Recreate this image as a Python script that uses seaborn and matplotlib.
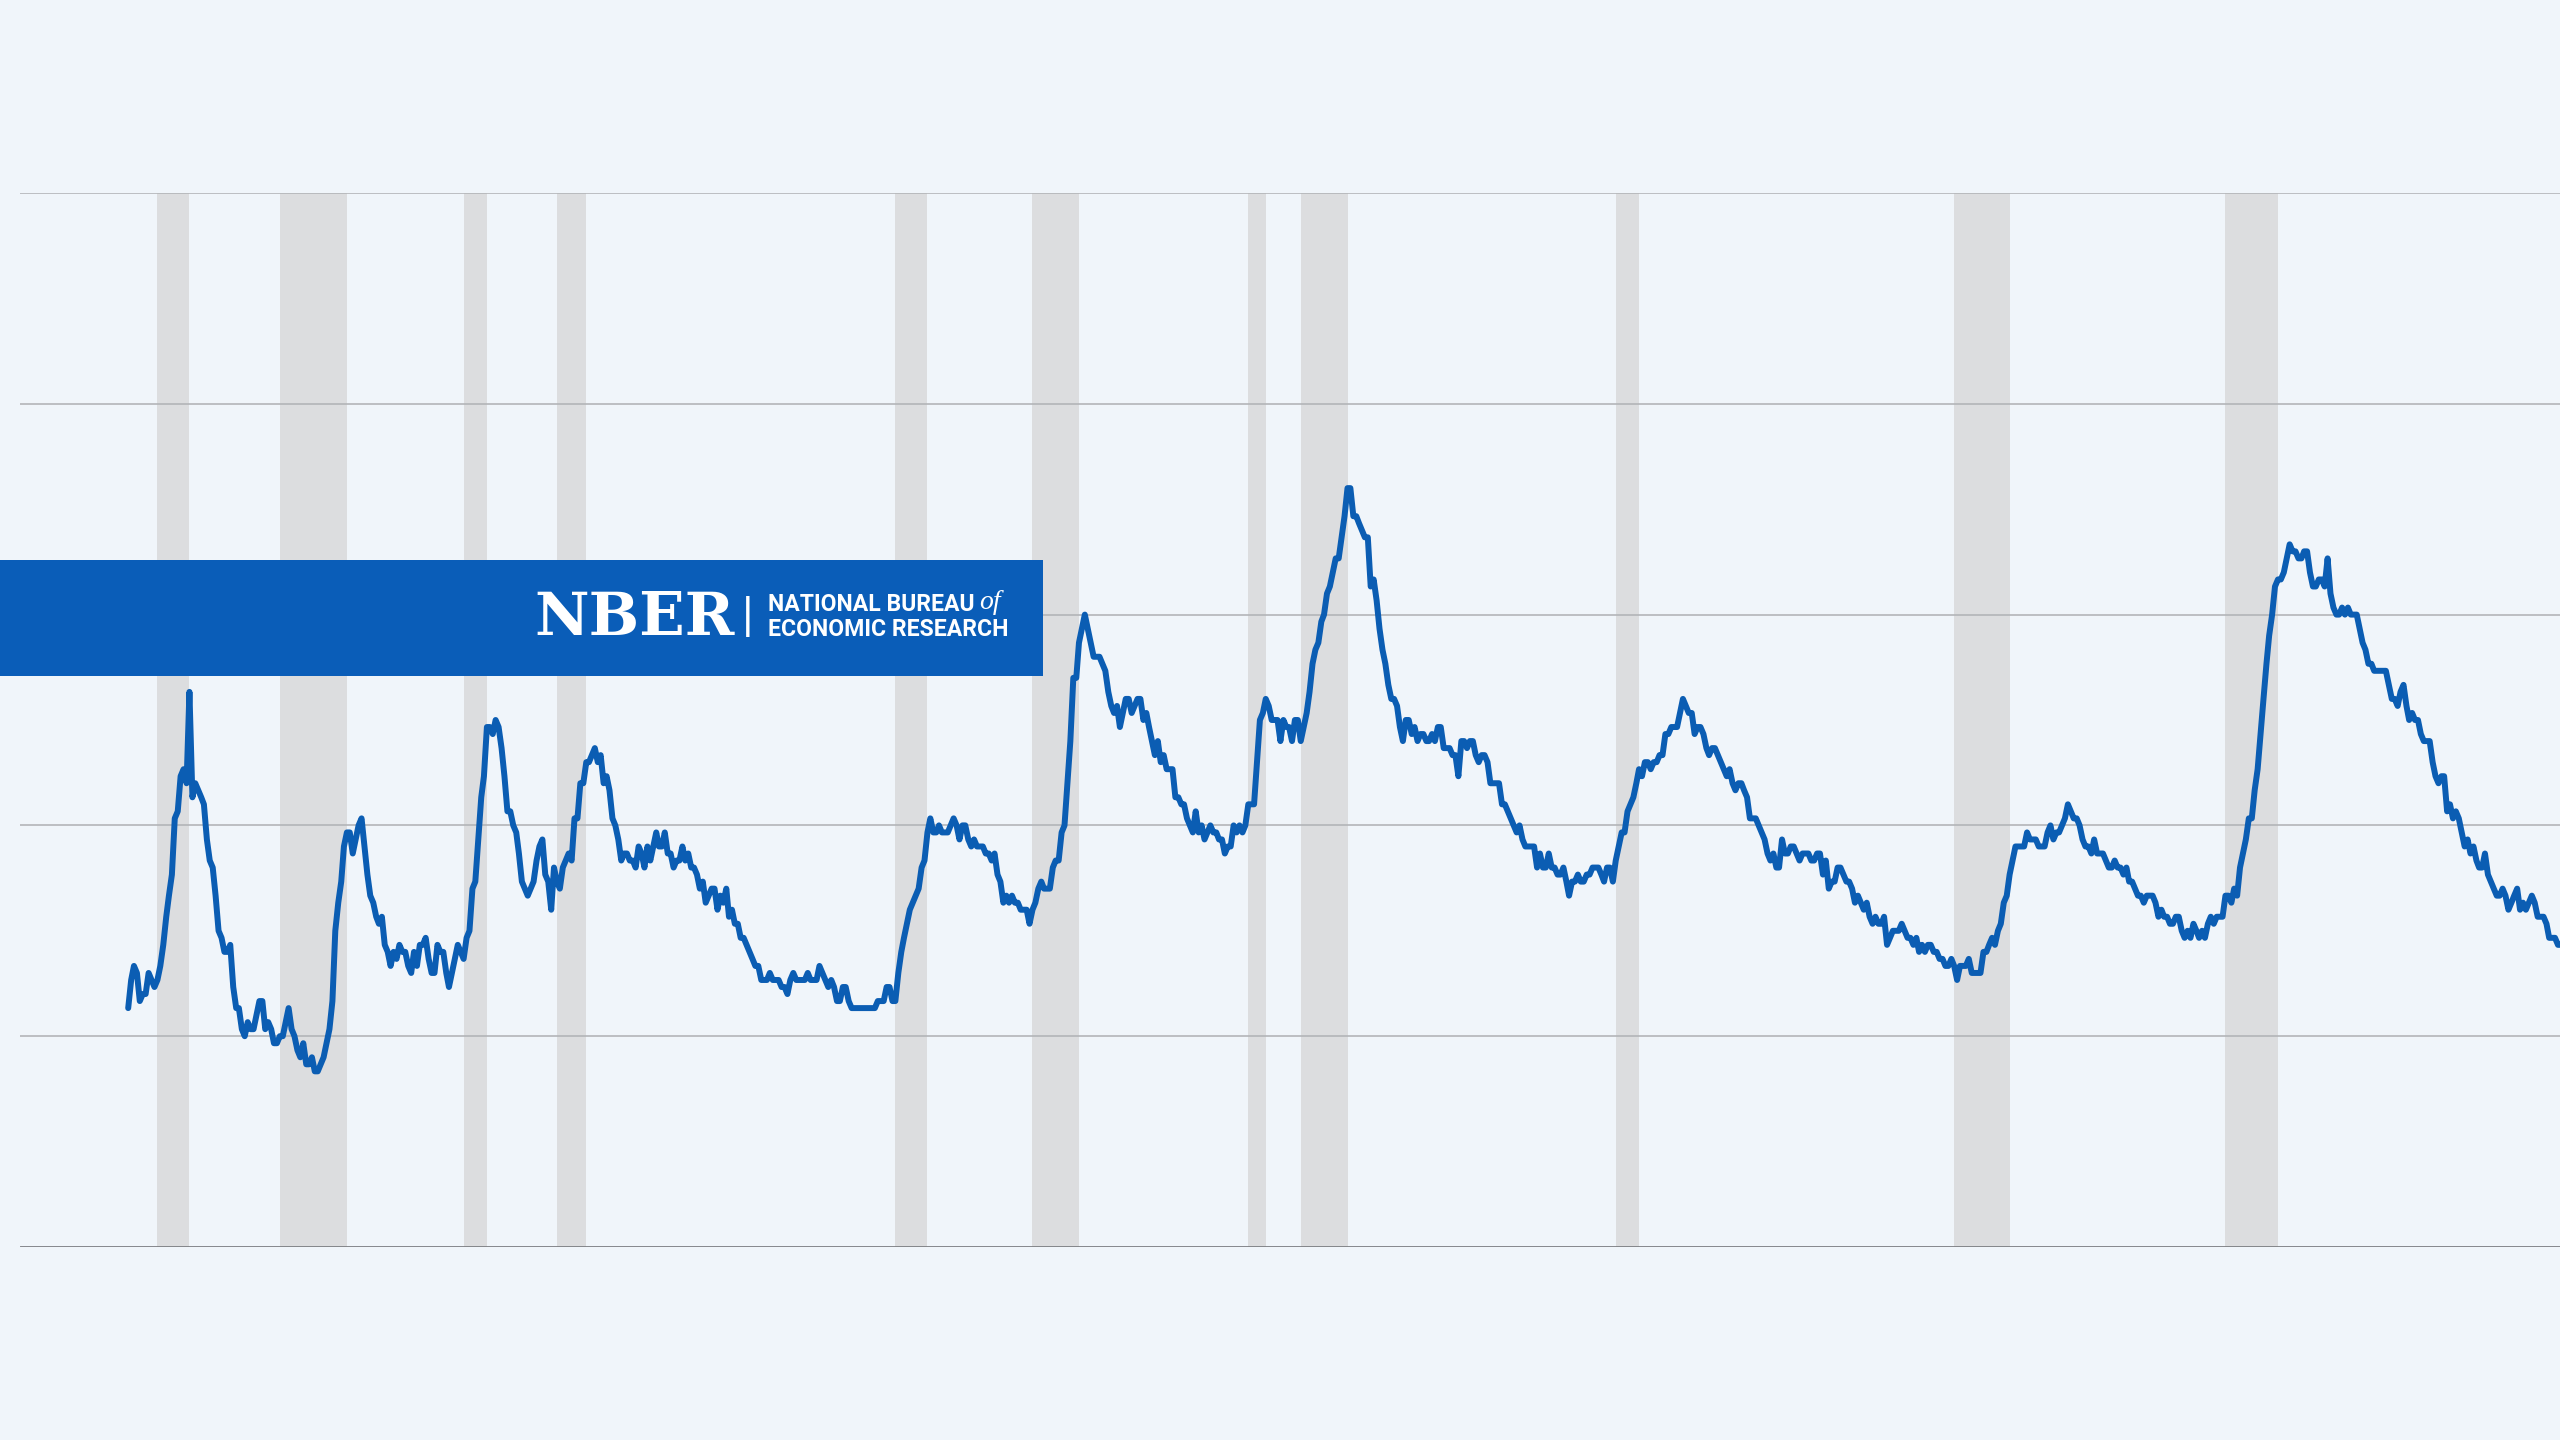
import pandas as pd
import numpy as np
import matplotlib.pyplot as plt
import seaborn as sns
from matplotlib.patches import Rectangle

# monthly US unemployment rate (%), Jan 1948 onwards
rate_1948_1959 = [
    3.4, 3.8, 4.0, 3.9, 3.5, 3.6, 3.6, 3.9, 3.8, 3.7, 3.8, 4.0,
    4.3, 4.7, 5.0, 5.3, 6.1, 6.2, 6.7, 6.8, 6.6, 7.9, 6.4, 6.6,
    6.5, 6.4, 6.3, 5.8, 5.5, 5.4, 5.0, 4.5, 4.4, 4.2, 4.2, 4.3,
    3.7, 3.4, 3.4, 3.1, 3.0, 3.2, 3.1, 3.1, 3.3, 3.5, 3.5, 3.1,
    3.2, 3.1, 2.9, 2.9, 3.0, 3.0, 3.2, 3.4, 3.1, 3.0, 2.8, 2.7,
    2.9, 2.6, 2.6, 2.7, 2.5, 2.5, 2.6, 2.7, 2.9, 3.1, 3.5, 4.5,
    4.9, 5.2, 5.7, 5.9, 5.9, 5.6, 5.8, 6.0, 6.1, 5.7, 5.3, 5.0,
    4.9, 4.7, 4.6, 4.7, 4.3, 4.2, 4.0, 4.2, 4.1, 4.3, 4.2, 4.2,
    4.0, 3.9, 4.2, 4.0, 4.3, 4.3, 4.4, 4.1, 3.9, 3.9, 4.3, 4.2,
    4.2, 3.9, 3.7, 3.9, 4.1, 4.3, 4.2, 4.1, 4.4, 4.5, 5.1, 5.2,
    5.8, 6.4, 6.7, 7.4, 7.4, 7.3, 7.5, 7.4, 7.1, 6.7, 6.2, 6.2,
    6.0, 5.9, 5.6, 5.2, 5.1, 5.0, 5.1, 5.2, 5.5, 5.7, 5.8, 5.3,
]
rate_1960_1969 = [
    5.2, 4.8, 5.4, 5.2, 5.1, 5.4, 5.5, 5.6, 5.5, 6.1, 6.1, 6.6,
    6.6, 6.9, 6.9, 7.0, 7.1, 6.9, 7.0, 6.6, 6.7, 6.5, 6.1, 6.0,
    5.8, 5.5, 5.6, 5.6, 5.5, 5.5, 5.4, 5.7, 5.6, 5.4, 5.7, 5.5,
    5.7, 5.9, 5.7, 5.7, 5.9, 5.6, 5.6, 5.4, 5.5, 5.5, 5.7, 5.5,
    5.6, 5.4, 5.4, 5.3, 5.1, 5.2, 4.9, 5.0, 5.1, 5.1, 4.8, 5.0,
    4.9, 5.1, 4.7, 4.8, 4.6, 4.6, 4.4, 4.4, 4.3, 4.2, 4.1, 4.0,
    4.0, 3.8, 3.8, 3.8, 3.9, 3.8, 3.8, 3.8, 3.7, 3.7, 3.6, 3.8,
    3.9, 3.8, 3.8, 3.8, 3.8, 3.9, 3.8, 3.8, 3.8, 4.0, 3.9, 3.8,
    3.7, 3.8, 3.7, 3.5, 3.5, 3.7, 3.7, 3.5, 3.4, 3.4, 3.4, 3.4,
    3.4, 3.4, 3.4, 3.4, 3.4, 3.5, 3.5, 3.5, 3.7, 3.7, 3.5, 3.5,
]
rate_1970_1979 = [
    3.9, 4.2, 4.4, 4.6, 4.8, 4.9, 5.0, 5.1, 5.4, 5.5, 5.9, 6.1,
    5.9, 5.9, 6.0, 5.9, 5.9, 5.9, 6.0, 6.1, 6.0, 5.8, 6.0, 6.0,
    5.8, 5.7, 5.8, 5.7, 5.7, 5.7, 5.6, 5.6, 5.5, 5.6, 5.3, 5.2,
    4.9, 5.0, 4.9, 5.0, 4.9, 4.9, 4.8, 4.8, 4.8, 4.6, 4.8, 4.9,
    5.1, 5.2, 5.1, 5.1, 5.1, 5.4, 5.5, 5.5, 5.9, 6.0, 6.6, 7.2,
    8.1, 8.1, 8.6, 8.8, 9.0, 8.8, 8.6, 8.4, 8.4, 8.4, 8.3, 8.2,
    7.9, 7.7, 7.6, 7.7, 7.4, 7.6, 7.8, 7.8, 7.6, 7.7, 7.8, 7.8,
    7.5, 7.6, 7.4, 7.2, 7.0, 7.2, 6.9, 7.0, 6.8, 6.8, 6.8, 6.4,
    6.4, 6.3, 6.3, 6.1, 6.0, 5.9, 6.2, 5.9, 6.0, 5.8, 5.9, 6.0,
    5.9, 5.9, 5.8, 5.8, 5.6, 5.7, 5.7, 6.0, 5.9, 6.0, 5.9, 6.0,
]
rate_1980_1989 = [
    6.3, 6.3, 6.3, 6.9, 7.5, 7.6, 7.8, 7.7, 7.5, 7.5, 7.5, 7.2,
    7.5, 7.4, 7.4, 7.2, 7.5, 7.5, 7.2, 7.4, 7.6, 7.9, 8.3, 8.5,
    8.6, 8.9, 9.0, 9.3, 9.4, 9.6, 9.8, 9.8, 10.1, 10.4, 10.8, 10.8,
    10.4, 10.4, 10.3, 10.2, 10.1, 10.1, 9.4, 9.5, 9.2, 8.8, 8.5, 8.3,
    8.0, 7.8, 7.8, 7.7, 7.4, 7.2, 7.5, 7.5, 7.3, 7.4, 7.2, 7.3,
    7.3, 7.2, 7.2, 7.3, 7.2, 7.4, 7.4, 7.1, 7.1, 7.1, 7.0, 7.0,
    6.7, 7.2, 7.2, 7.1, 7.2, 7.2, 7.0, 6.9, 7.0, 7.0, 6.9, 6.6,
    6.6, 6.6, 6.6, 6.3, 6.3, 6.2, 6.1, 6.0, 5.9, 6.0, 5.8, 5.7,
    5.7, 5.7, 5.7, 5.4, 5.6, 5.4, 5.4, 5.6, 5.4, 5.4, 5.3, 5.3,
    5.4, 5.2, 5.0, 5.2, 5.2, 5.3, 5.2, 5.2, 5.3, 5.3, 5.4, 5.4,
]
rate_1990_1999 = [
    5.4, 5.3, 5.2, 5.4, 5.4, 5.2, 5.5, 5.7, 5.9, 5.9, 6.2, 6.3,
    6.4, 6.6, 6.8, 6.7, 6.9, 6.9, 6.8, 6.9, 6.9, 7.0, 7.0, 7.3,
    7.3, 7.4, 7.4, 7.4, 7.6, 7.8, 7.7, 7.6, 7.6, 7.3, 7.4, 7.4,
    7.3, 7.1, 7.0, 7.1, 7.1, 7.0, 6.9, 6.8, 6.7, 6.8, 6.6, 6.5,
    6.6, 6.6, 6.5, 6.4, 6.1, 6.1, 6.1, 6.0, 5.9, 5.8, 5.6, 5.5,
    5.6, 5.4, 5.4, 5.8, 5.6, 5.6, 5.7, 5.7, 5.6, 5.5, 5.6, 5.6,
    5.6, 5.5, 5.5, 5.6, 5.6, 5.3, 5.5, 5.1, 5.2, 5.2, 5.4, 5.4,
    5.3, 5.2, 5.2, 5.1, 4.9, 5.0, 4.9, 4.8, 4.9, 4.7, 4.6, 4.7,
    4.6, 4.6, 4.7, 4.3, 4.4, 4.5, 4.5, 4.5, 4.6, 4.5, 4.4, 4.4,
    4.3, 4.4, 4.2, 4.3, 4.2, 4.3, 4.3, 4.2, 4.2, 4.1, 4.1, 4.0,
]
rate_2000_2009 = [
    4.0, 4.1, 4.0, 3.8, 4.0, 4.0, 4.0, 4.1, 3.9, 3.9, 3.9, 3.9,
    4.2, 4.2, 4.3, 4.4, 4.3, 4.5, 4.6, 4.9, 5.0, 5.3, 5.5, 5.7,
    5.7, 5.7, 5.7, 5.9, 5.8, 5.8, 5.8, 5.7, 5.7, 5.7, 5.9, 6.0,
    5.8, 5.9, 5.9, 6.0, 6.1, 6.3, 6.2, 6.1, 6.1, 6.0, 5.8, 5.7,
    5.7, 5.6, 5.8, 5.6, 5.6, 5.6, 5.5, 5.4, 5.4, 5.5, 5.4, 5.4,
    5.3, 5.4, 5.2, 5.2, 5.1, 5.0, 5.0, 4.9, 5.0, 5.0, 5.0, 4.9,
    4.7, 4.8, 4.7, 4.7, 4.6, 4.6, 4.7, 4.7, 4.5, 4.4, 4.5, 4.4,
    4.6, 4.5, 4.4, 4.5, 4.4, 4.6, 4.7, 4.6, 4.7, 4.7, 4.7, 5.0,
    5.0, 4.9, 5.1, 5.0, 5.4, 5.6, 5.8, 6.1, 6.1, 6.5, 6.8, 7.3,
    7.8, 8.3, 8.7, 9.0, 9.4, 9.5, 9.5, 9.6, 9.8, 10.0, 9.9, 9.9,
]
rate_2010_2017 = [
    9.8, 9.8, 9.9, 9.9, 9.6, 9.4, 9.4, 9.5, 9.5, 9.4, 9.8, 9.3,
    9.1, 9.0, 9.0, 9.1, 9.0, 9.1, 9.0, 9.0, 9.0, 8.8, 8.6, 8.5,
    8.3, 8.3, 8.2, 8.2, 8.2, 8.2, 8.2, 8.0, 7.8, 7.8, 7.7, 7.9,
    8.0, 7.7, 7.5, 7.6, 7.5, 7.5, 7.3, 7.2, 7.2, 7.2, 6.9, 6.7,
    6.6, 6.7, 6.7, 6.2, 6.3, 6.1, 6.2, 6.1, 5.9, 5.7, 5.8, 5.6,
    5.7, 5.5, 5.4, 5.4, 5.6, 5.3, 5.2, 5.1, 5.0, 5.0, 5.1, 5.0,
    4.8, 4.9, 5.0, 5.1, 4.8, 4.9, 4.8, 4.9, 5.0, 4.9, 4.7, 4.7,
    4.7, 4.6, 4.4, 4.4, 4.4, 4.3, 4.3, 4.4, 4.3, 4.2, 4.2, 4.1,
]

# shaded recession bands as drawn in the chart
rec_start = ['1948-11', '1952-05', '1957-08', '1960-04', '1969-12', '1973-11',
             '1980-01', '1981-07', '1990-07', '2000-03', '2007-12']
rec_end = ['1949-10', '1954-04', '1958-04', '1961-02', '1970-11', '1975-03',
           '1980-07', '1982-11', '1991-03', '2001-10', '2009-06']

grid_levels = [3, 6, 9, 12, 15]

rate = (rate_1948_1959 + rate_1960_1969 + rate_1970_1979 + rate_1980_1989
        + rate_1990_1999 + rate_2000_2009 + rate_2010_2017)
df = pd.DataFrame({'date': pd.date_range('1948-01-01', periods=len(rate), freq='MS'),
                   'rate': rate})

bg = '#F0F5FA'
blue = '#0B5DB3'

sns.set_theme(style='white')
fig = plt.figure(figsize=(25.6, 14.4), dpi=100, facecolor=bg)
ax = fig.add_axes([20 / 2560, 1 - 1247 / 1440, 1 - 20 / 2560, (1247 - 193) / 1440])
ax.set_facecolor(bg)

for s, e in zip(rec_start, rec_end):
    ax.axvspan(pd.Timestamp(s), pd.Timestamp(e), color='#DCDDDF', lw=0, zorder=1)

for g in grid_levels:
    ax.axhline(g, color='#B3B5B8', lw=1.2, zorder=2)
ax.axhline(0, color='#7C7E82', lw=2.0, zorder=2)

sns.lineplot(data=df, x='date', y='rate', ax=ax, color=blue, lw=4.3, zorder=3)

ax.set_xlim(pd.Timestamp('1944-11-28'), pd.Timestamp('2017-06-22'))
ax.set_ylim(0, 15)
ax.set_xticks([])
ax.set_yticks([])
ax.set_xlabel('')
ax.set_ylabel('')
for sp in ax.spines.values():
    sp.set_visible(False)

# NBER banner
fig.patches.append(Rectangle((0, 1 - 676 / 1440), 1043 / 2560, 116 / 1440,
                             transform=fig.transFigure, facecolor='#0A5DB8',
                             edgecolor='none', zorder=10))
fig.text(635 / 2560, 1 - 618 / 1440, 'NBER', color='white', fontsize=43,
         fontweight='bold', family='DejaVu Serif', ha='center', va='center',
         zorder=11)
fig.text(748 / 2560, 1 - 617 / 1440, '|', color='white', fontsize=29,
         family='DejaVu Sans', ha='center', va='center', zorder=11)
fig.text(768 / 2560, 1 - 604 / 1440, 'NATIONAL BUREAU', color='white', fontsize=16.6,
         fontweight='bold', family='Roboto', ha='left', va='center', zorder=11)
fig.text(979 / 2560, 1 - 602 / 1440, 'of', color='white', fontsize=20,
         style='italic', family='Liberation Serif', ha='left', va='center', zorder=11)
fig.text(768 / 2560, 1 - 629 / 1440, 'ECONOMIC RESEARCH', color='white', fontsize=16.6,
         fontweight='bold', family='Roboto', ha='left', va='center', zorder=11)

plt.savefig('out.png', dpi=100, facecolor=bg)
